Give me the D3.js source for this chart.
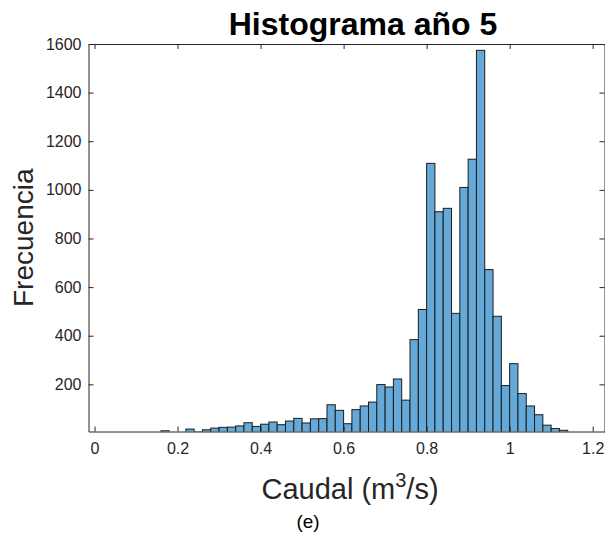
<!DOCTYPE html>
<html>
<head>
<meta charset="utf-8">
<script src="https://cdn.jsdelivr.net/npm/d3@7"></script>
<style>
  html, body { margin: 0; padding: 0; background: #fff; }
  svg { display: block; }
  text { font-family: "Liberation Sans", Arial, Helvetica, sans-serif; }
</style>
</head>
<body>
<svg id="chart" width="605" height="535"></svg>
<script>
// Histogram bins (left edge, m^3/s) with a bin width of 0.02
const binLeft = [0.16, 0.18, 0.20, 0.22, 0.24, 0.26, 0.28, 0.30, 0.32, 0.34,
                 0.36, 0.38, 0.40, 0.42, 0.44, 0.46, 0.48, 0.50, 0.52, 0.54,
                 0.56, 0.58, 0.60, 0.62, 0.64, 0.66, 0.68, 0.70, 0.72, 0.74,
                 0.76, 0.78, 0.80, 0.82, 0.84, 0.86, 0.88, 0.90, 0.92, 0.94,
                 0.96, 0.98, 1.00, 1.02, 1.04, 1.06, 1.08, 1.10, 1.12];
const binWidth = 0.02;
// Counts per bin
const counts = [9, 0, 0, 16, 4, 13, 20, 23, 24, 29,
                42, 27, 36, 45, 34, 49, 60, 41, 58, 59,
                116, 93, 38, 96, 111, 127, 199, 189, 222, 135,
                384, 508, 1109, 910, 924, 492, 1010, 1126, 1574, 672,
                480, 195, 285, 162, 111, 75, 32, 18, 11];

const xTicks = [0, 0.2, 0.4, 0.6, 0.8, 1, 1.2];
const yTicks = [200, 400, 600, 800, 1000, 1200, 1400, 1600];

const titleText = "Histograma año 5";
const yLabel = "Frecuencia";
const panelTag = "(e)";

const svg = d3.select("#chart");
const plotLeft = 88.5, plotRight = 604.5, plotTop = 44, plotBottom = 431.5;

const x = d3.scaleLinear().domain([-0.0145, 1.2285]).range([plotLeft, plotRight]);
const y = d3.scaleLinear().domain([6, 1600]).range([plotBottom, plotTop]);

const axisColor = "#262626";

svg.append("defs").append("clipPath").attr("id", "plotArea")
  .append("rect").attr("x", plotLeft).attr("y", plotTop)
  .attr("width", plotRight - plotLeft).attr("height", plotBottom - plotTop);

// Bars
const bins = binLeft.map((b, i) => ({ x0: b, x1: b + binWidth, n: counts[i] }));
svg.append("g").attr("clip-path", "url(#plotArea)")
  .selectAll("rect").data(bins).enter().append("rect")
  .attr("x", d => x(d.x0))
  .attr("width", d => x(d.x1) - x(d.x0))
  .attr("y", d => y(Math.max(d.n, 0)))
  .attr("height", d => y(0) - y(Math.max(d.n, 0)))
  .attr("fill", "#65a9d8")
  .attr("stroke", "#1c1c1c")
  .attr("stroke-width", 1);

// Axes (ticks inside, box on)
const tickLen = 5;
function styleAxis(g) {
  g.selectAll("path.domain").attr("stroke", axisColor).attr("stroke-width", 1);
  g.selectAll(".tick line").attr("stroke", axisColor);
  g.selectAll(".tick text").attr("fill", axisColor)
    .style("font-family", '"Liberation Sans", Arial, Helvetica, sans-serif')
    .style("font-size", "16px");
}

svg.append("g").attr("transform", `translate(0,${plotBottom})`)
  .call(d3.axisBottom(x).tickValues(xTicks).tickFormat(d3.format("~g"))
    .tickSizeInner(-tickLen).tickSizeOuter(0).tickPadding(11))
  .call(styleAxis);

svg.append("g").attr("transform", `translate(0,${plotTop})`)
  .call(d3.axisTop(x).tickValues(xTicks).tickFormat("")
    .tickSizeInner(-tickLen).tickSizeOuter(0))
  .call(styleAxis);

svg.append("g").attr("transform", `translate(${plotLeft},0)`)
  .call(d3.axisLeft(y).tickValues(yTicks).tickFormat(d3.format("d"))
    .tickSizeInner(-tickLen).tickSizeOuter(0).tickPadding(7))
  .call(styleAxis);

svg.append("g").attr("transform", `translate(${plotRight},0)`)
  .call(d3.axisRight(y).tickValues(yTicks).tickFormat("")
    .tickSizeInner(-tickLen).tickSizeOuter(0))
  .call(styleAxis);

// Title
svg.append("text")
  .attr("x", 363).attr("y", 35)
  .attr("text-anchor", "middle")
  .attr("font-weight", "bold")
  .attr("font-size", 32)
  .attr("fill", "#000")
  .text(titleText);

// Y label
svg.append("text")
  .attr("transform", `translate(33,${(plotTop + plotBottom) / 2}) rotate(-90)`)
  .attr("text-anchor", "middle")
  .attr("font-size", 28)
  .attr("fill", axisColor)
  .text(yLabel);

// X label with superscript
const xl = svg.append("text")
  .attr("x", 350).attr("y", 499)
  .attr("text-anchor", "middle")
  .attr("font-size", 29)
  .attr("fill", axisColor);
xl.append("tspan").text("Caudal (m");
xl.append("tspan").attr("font-size", 20).attr("dy", -12).text("3");
xl.append("tspan").attr("dy", 12).text("/s)");

// Panel tag
svg.append("text")
  .attr("x", 308).attr("y", 528)
  .attr("text-anchor", "middle")
  .attr("font-size", 19)
  .attr("fill", "#000")
  .text(panelTag);
</script>
</body>
</html>
